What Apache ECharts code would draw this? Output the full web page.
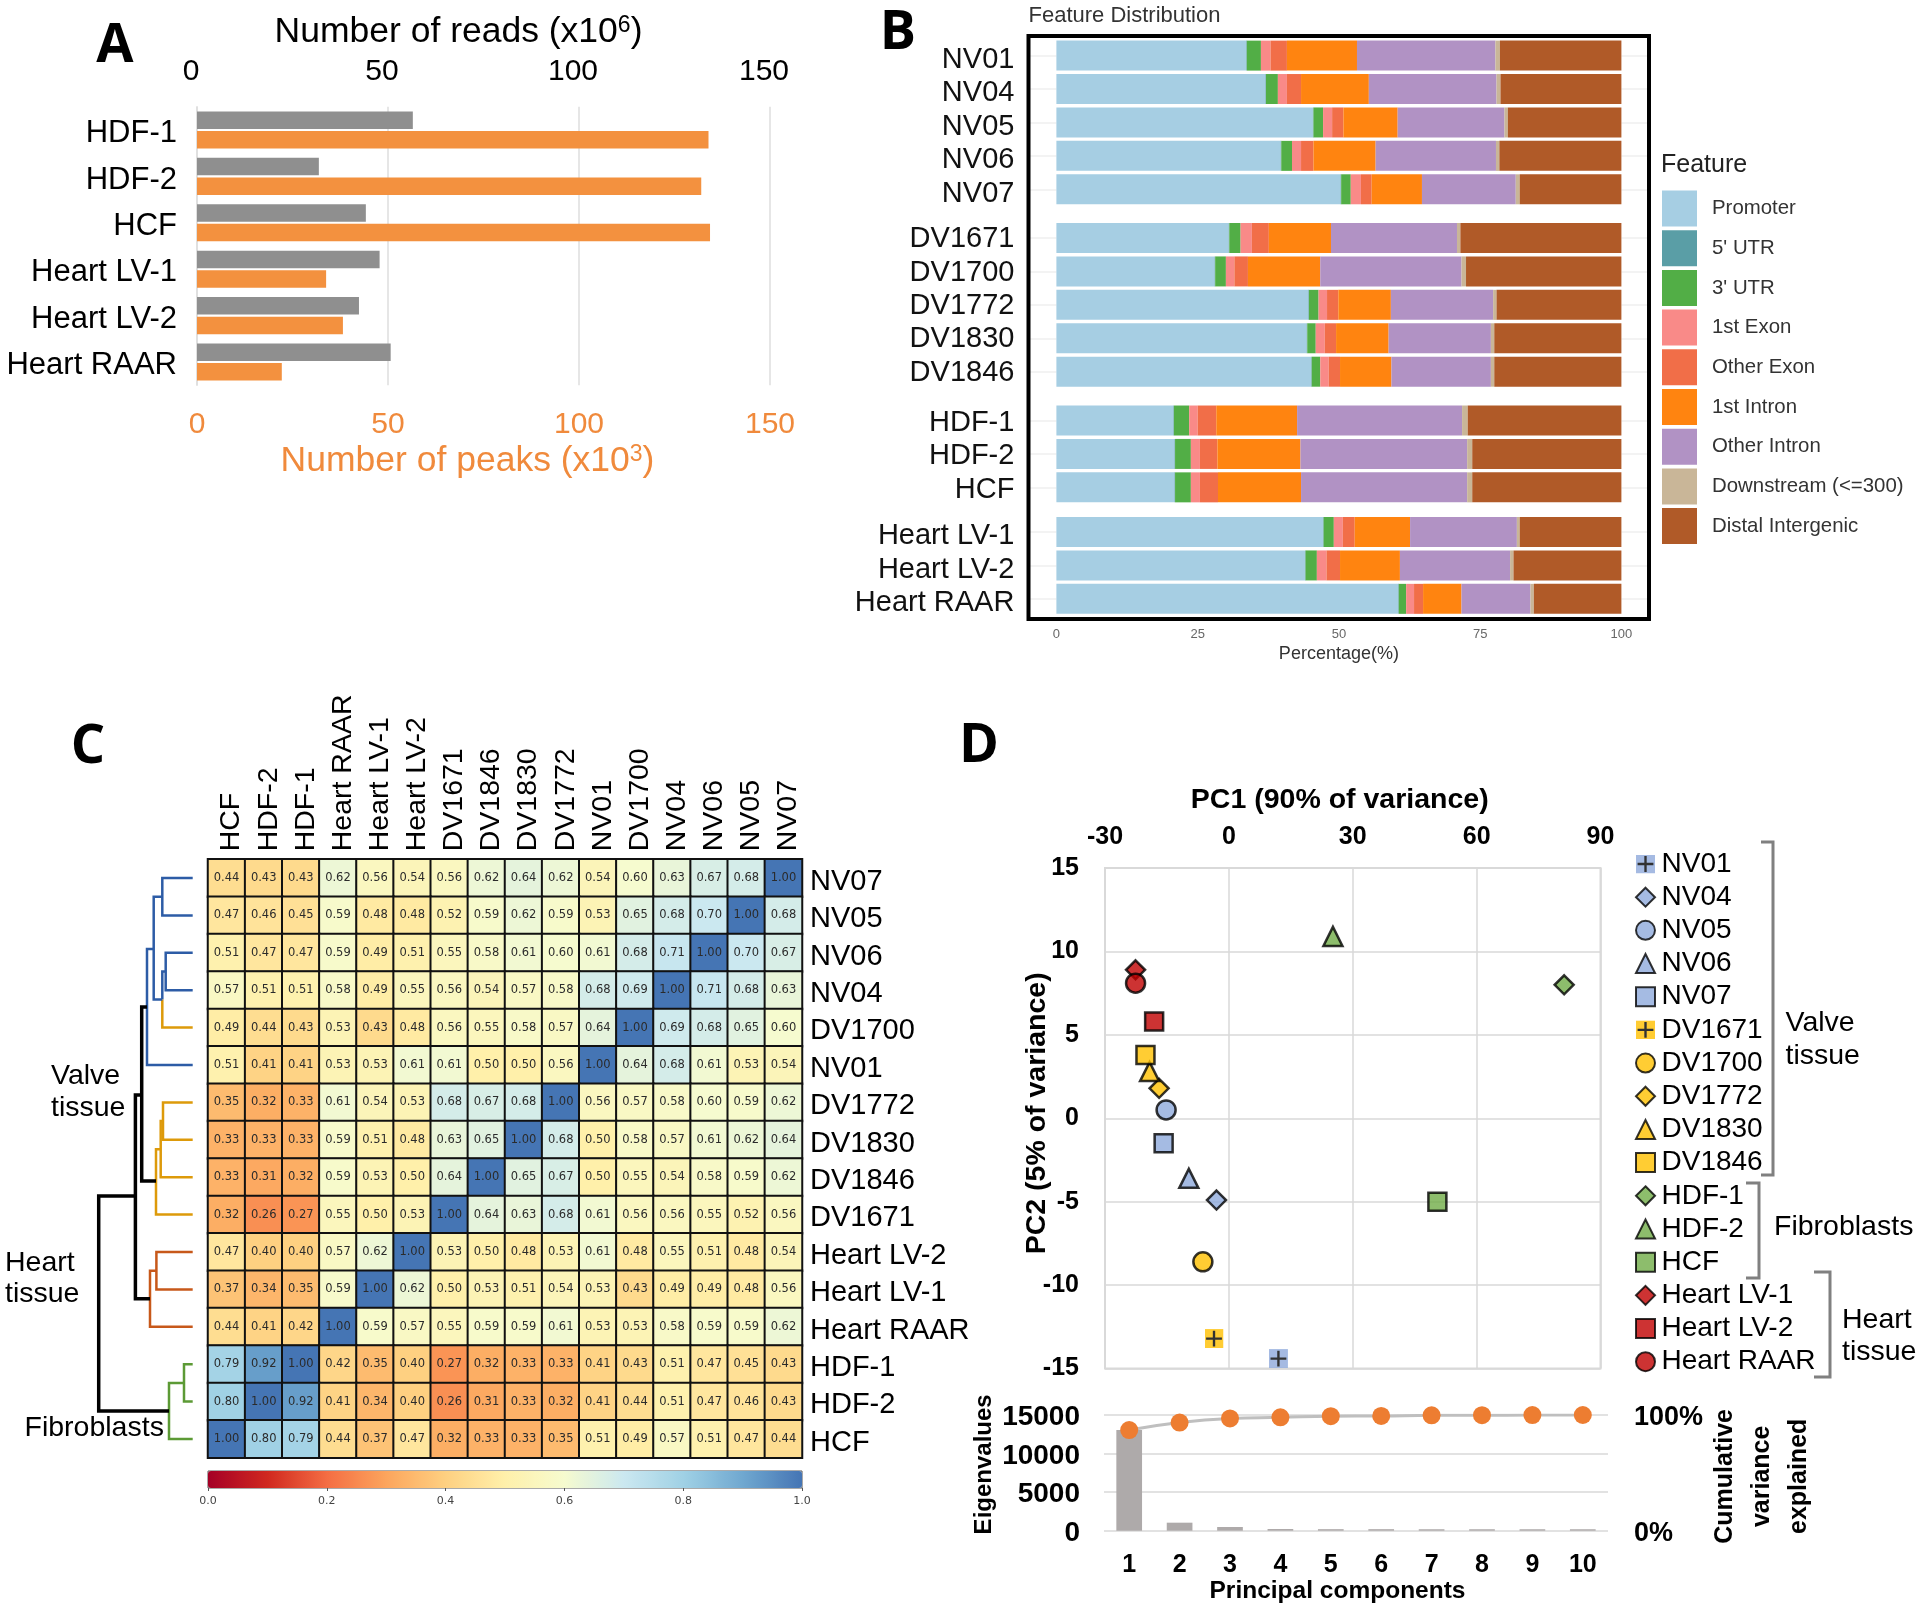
<!DOCTYPE html>
<html><head><meta charset="utf-8">
<style>html,body{margin:0;padding:0;background:#fff}#c{width:1920px;height:1606px}</style>
<script src="https://cdn.jsdelivr.net/npm/echarts@6/dist/echarts.min.js"></script>
</head><body><div id="c"></div>
<script>
// ---------- Panel A ----------
const readSamples = ['HDF-1','HDF-2','HCF','Heart LV-1','Heart LV-2','Heart RAAR'];
const readsM = [56.5,31.9,44.2,47.8,42.4,50.7];
const peaksK = [133.9,132,134.3,33.8,38.2,22.2];
// ---------- Panel B ----------
const bSamples = ['NV01','NV04','NV05','NV06','NV07','DV1671','DV1700','DV1772','DV1830','DV1846','HDF-1','HDF-2','HCF','Heart LV-1','Heart LV-2','Heart RAAR'];
const bFacetSizes = [5,5,3,3];
const featureNames = ['Promoter',"5' UTR","3' UTR",'1st Exon','Other Exon','1st Intron','Other Intron','Downstream (<=300)','Distal Intergenic'];
const promoter   = [33.6,37.0,45.4,39.7,50.3,30.5,28.0,44.6,44.3,45.1,20.7,20.9,20.9,47.2,44.0,60.5];
const utr5       = [0.1,0.1,0.1,0.1,0.1,0.1,0.1,0.1,0.1,0.1,0.1,0.1,0.1,0.1,0.1,0.1];
const utr3       = [2.5,2.1,1.7,1.9,1.7,2.0,1.9,1.7,1.5,1.5,2.7,2.8,2.8,1.8,2.0,1.3];
const exon1      = [1.7,1.6,1.6,1.6,1.8,2.0,1.5,1.5,1.6,1.5,1.5,1.6,1.6,1.6,1.7,1.4];
const otherExon  = [2.9,2.5,2.0,2.2,1.9,3.0,2.4,2.0,2.0,2.0,3.3,3.1,3.2,2.1,2.4,1.6];
const intron1    = [12.4,12.0,9.6,11.0,8.9,11.0,12.8,9.3,9.3,9.1,14.3,14.7,14.7,9.8,10.6,6.8];
const otherIntron= [24.5,22.6,18.9,21.3,16.6,22.3,25.0,18.1,18.1,17.6,29.2,29.5,29.4,18.9,19.5,12.2];
const downstream = [0.8,0.7,0.6,0.6,0.7,0.6,0.8,0.6,0.6,0.6,1.0,0.9,0.9,0.5,0.6,0.6];
const distal     = [21.5,21.4,20.1,21.6,18.0,28.5,27.5,22.1,22.5,22.5,27.2,26.4,26.4,18.0,19.1,15.5];
const featureValues = [promoter,utr5,utr3,exon1,otherExon,intron1,otherIntron,downstream,distal];
const featureColors = ['#a6cee3','#5a9ea6','#52ae46','#f98a88','#f16e48','#ff8410','#b192c4','#c9b698','#b05a28'];
// ---------- Panel C ----------
const hmCols = ['HCF','HDF-2','HDF-1','Heart RAAR','Heart LV-1','Heart LV-2','DV1671','DV1846','DV1830','DV1772','NV01','DV1700','NV04','NV06','NV05','NV07'];
const hmRows = ['NV07','NV05','NV06','NV04','DV1700','NV01','DV1772','DV1830','DV1846','DV1671','Heart LV-2','Heart LV-1','Heart RAAR','HDF-1','HDF-2','HCF'];
const hmValues = [
[.44,.43,.43,.62,.56,.54,.56,.62,.64,.62,.54,.60,.63,.67,.68,1],
[.47,.46,.45,.59,.48,.48,.52,.59,.62,.59,.53,.65,.68,.70,1,.68],
[.51,.47,.47,.59,.49,.51,.55,.58,.61,.60,.61,.68,.71,1,.70,.67],
[.57,.51,.51,.58,.49,.55,.56,.54,.57,.58,.68,.69,1,.71,.68,.63],
[.49,.44,.43,.53,.43,.48,.56,.55,.58,.57,.64,1,.69,.68,.65,.60],
[.51,.41,.41,.53,.53,.61,.61,.50,.50,.56,1,.64,.68,.61,.53,.54],
[.35,.32,.33,.61,.54,.53,.68,.67,.68,1,.56,.57,.58,.60,.59,.62],
[.33,.33,.33,.59,.51,.48,.63,.65,1,.68,.50,.58,.57,.61,.62,.64],
[.33,.31,.32,.59,.53,.50,.64,1,.65,.67,.50,.55,.54,.58,.59,.62],
[.32,.26,.27,.55,.50,.53,1,.64,.63,.68,.61,.56,.56,.55,.52,.56],
[.47,.40,.40,.57,.62,1,.53,.50,.48,.53,.61,.48,.55,.51,.48,.54],
[.37,.34,.35,.59,1,.62,.50,.53,.51,.54,.53,.43,.49,.49,.48,.56],
[.44,.41,.42,1,.59,.57,.55,.59,.59,.61,.53,.53,.58,.59,.59,.62],
[.79,.92,1,.42,.35,.40,.27,.32,.33,.33,.41,.43,.51,.47,.45,.43],
[.80,1,.92,.41,.34,.40,.26,.31,.33,.32,.41,.44,.51,.47,.46,.43],
[1,.80,.79,.44,.37,.47,.32,.33,.33,.35,.51,.49,.57,.51,.47,.44]];
const hmPalette = ['#a50026','#d0281f','#f46d43','#fca55d','#fed081','#fff0aa','#f6fbcf','#cbe8f0','#a0d1e5','#70a8d0','#4575b4'];
const dendroLinks = [
 ['#2d5ca6',[[0,.5],[30.4,.5],[30.4,1.5],[0,1.5]]],
 ['#2d5ca6',[[0,2.5],[27,2.5],[27,3.5],[0,3.5]]],
 ['#2d5ca6',[[27,3],[30.4,3],[30.4,3.75]]],
 ['#dd9a0a',[[30.4,3.75],[30.4,4.5],[0,4.5]]],
 ['#2d5ca6',[[30.4,1],[39,1],[39,3.75],[30.4,3.75]]],
 ['#2d5ca6',[[39,2.4],[45.7,2.4],[45.7,5.5],[0,5.5]]],
 ['#dd9a0a',[[0,6.5],[29.7,6.5],[29.7,7.5],[0,7.5]]],
 ['#dd9a0a',[[29.7,7],[32,7],[32,8.5],[0,8.5]]],
 ['#dd9a0a',[[32,7.75],[36.7,7.75],[36.7,9.5],[0,9.5]]],
 ['#000',[[45.7,3.95],[51,3.95],[51,8.6],[36.7,8.6]]],
 ['#c7581a',[[0,10.5],[36.3,10.5],[36.3,11.5],[0,11.5]]],
 ['#c7581a',[[36.3,11],[42.7,11],[42.7,12.5],[0,12.5]]],
 ['#000',[[51,6.3],[57.3,6.3],[57.3,11.75],[42.7,11.75]]],
 ['#5c9a35',[[0,13.5],[8.7,13.5],[8.7,14.5],[0,14.5]]],
 ['#5c9a35',[[8.7,14],[23.7,14],[23.7,15.5],[0,15.5]]],
 ['#000',[[57.3,9],[94,9],[94,14.75],[23.7,14.75]]]
];
// ---------- Panel D ----------
const pcaSamples = ['NV01','NV04','NV05','NV06','NV07','DV1671','DV1700','DV1772','DV1830','DV1846','HDF-1','HDF-2','HCF','Heart LV-1','Heart LV-2','Heart RAAR'];
const pc1 = [12.0,-3.0,-15.2,-9.7,-15.8,-3.6,-6.3,-16.9,-19.2,-20.2,81.2,25.2,50.5,-22.6,-18.1,-22.6];
const pc2 = [-14.4,-4.9,0.5,-3.6,-1.5,-13.2,-8.6,1.8,2.8,3.8,8.0,10.9,-5.0,8.9,5.8,8.1];
const pcaColors = ['#8faadc','#8faadc','#8faadc','#8faadc','#8faadc','#ffc000','#ffc000','#ffc000','#ffc000','#ffc000','#70ad47','#70ad47','#70ad47','#c00000','#c00000','#c00000'];
const pcaShapes = ['plus','diamond','circle','triangle','rect','plus','circle','diamond','triangle','rect','diamond','triangle','rect','diamond','rect','circle'];
const pcNumbers = ['1','2','3','4','5','6','7','8','9','10'];
const eigenvalues = [13060,1040,480,220,200,200,190,190,190,190];
const cumulativePct = [87,93.5,97,98,99,99.2,99.7,99.8,99.9,100];

const SANS = '"Liberation Sans", Arial, sans-serif';
const grid=[], xAxis=[], yAxis=[], series=[];
function addGrid(g,x,y){g.outerBoundsMode='none';grid.push(g);const i=grid.length-1;
  const xs=[].concat(x).map(a=>Object.assign({gridIndex:i},a));
  const ys=[].concat(y).map(a=>Object.assign({gridIndex:i},a));
  const xi=xAxis.length, yi=yAxis.length; xAxis.push(...xs); yAxis.push(...ys); return {xi,yi};}
// axis label as rich text, shifted down by half of padTop
function richLabel(style,padTop,fmt){
  return {formatter:v=>'{a|'+(fmt?fmt(v):v)+'}',rich:{a:Object.assign({padding:[padTop,0,0,0]},style)}};
}

// --- A ---
const AOR='#f3913f', AORT='#f08a3c';
const supRich=(col)=>({a:{color:col,fontFamily:SANS,fontSize:35.5},s:{color:col,fontFamily:SANS,fontSize:23,verticalAlign:'top'}});
const a=addGrid({left:197,top:106.8,width:573,height:278.4},
 [{type:'value',position:'bottom',min:0,max:150,interval:50,axisLine:{show:false},axisTick:{show:false},
   splitLine:{show:true,lineStyle:{color:'#dedede',width:1.5}},
   axisLabel:{color:AORT,fontFamily:SANS,fontSize:30,margin:25},
   name:'{a|Number of peaks (x10}{s|3}{a|)}',nameLocation:'middle',nameGap:58,nameTextStyle:{padding:[0,32,0,0],rich:supRich(AORT)}},
  {type:'value',position:'top',min:0,max:150,interval:50,axisLine:{show:false},axisTick:{show:false},splitLine:{show:false},
   axisLabel:{color:'#000',fontFamily:SANS,fontSize:30,margin:20,padding:[0,12,0,0]},
   name:'{a|Number of reads (x10}{s|6}{a|)}',nameLocation:'middle',nameGap:57,nameTextStyle:{padding:[0,50,0,0],rich:supRich('#000')}}],
 {type:'category',data:readSamples,inverse:true,axisLine:{lineStyle:{color:'#dedede',width:1.5}},axisTick:{show:false},
  axisLabel:Object.assign({margin:20,interval:0},richLabel({color:'#000',fontFamily:SANS,fontSize:31},7.4))});
series.push({type:'bar',name:'Reads',xAxisIndex:a.xi+1,yAxisIndex:a.yi,data:readsM,barWidth:17.5,barGap:'12%',itemStyle:{color:'#8f8f8f'}});
series.push({type:'bar',name:'Peaks',xAxisIndex:a.xi,yAxisIndex:a.yi,data:peaksK,barWidth:17.5,barGap:'12%',itemStyle:{color:AOR}});

// --- B ---
const bTops=[38.9,221.3,403.8,515.3], bLabelPad=[8.6,2.4,4.8,8.6]; let off=0;
bFacetSizes.forEach((n,k)=>{
  const cats=bSamples.slice(off,off+n), last=k===bFacetSizes.length-1;
  const ax=addGrid({left:1056.4,width:565,top:bTops[k],height:n*33.42},
   {type:'value',min:0,max:100,interval:25,splitLine:{show:false},axisLine:{show:false},axisTick:{show:false},
    axisLabel:{show:last,color:'#666',fontFamily:SANS,fontSize:13,margin:12},
    ...(last?{name:'Percentage(%)',nameLocation:'middle',nameGap:29,nameTextStyle:{color:'#333',fontFamily:SANS,fontSize:18}}:{})},
   [{type:'category',inverse:true,data:cats,axisLine:{show:false},axisTick:{show:true,alignWithLabel:true,length:28,lineStyle:{color:'#efefef',width:1.5}},
    axisLabel:Object.assign({margin:42,interval:0},richLabel({color:'#111',fontFamily:SANS,fontSize:29},bLabelPad[k]))},
    {type:'category',inverse:true,position:'right',data:cats,axisLine:{show:false},axisTick:{show:true,alignWithLabel:true,length:28,lineStyle:{color:'#efefef',width:1.5}},axisLabel:{show:false}}]);
  featureNames.forEach((f,j)=>series.push({type:'bar',name:f,stack:'facet'+k,xAxisIndex:ax.xi,yAxisIndex:ax.yi,barWidth:30,
    data:featureValues[j].slice(off,off+n),itemStyle:{color:featureColors[j]}}));
  off+=n;
});

// --- C ---
const h=addGrid({left:208,top:859.3,width:594,height:598.4},
 {type:'category',position:'top',data:hmCols,axisLine:{show:false},axisTick:{show:false},splitLine:{show:false},
  axisLabel:Object.assign({rotate:-90,margin:8,interval:0},richLabel({color:'#000',fontFamily:SANS,fontSize:28.5},10))},
 {type:'category',position:'right',inverse:true,data:hmRows,axisLine:{show:false},axisTick:{show:false},splitLine:{show:false},
  axisLabel:Object.assign({margin:8,interval:0},richLabel({color:'#000',fontFamily:SANS,fontSize:29},7.4))});
const hmData=[]; hmValues.forEach((r,i)=>r.forEach((v,j)=>hmData.push([j,i,v])));
series.push({type:'heatmap',name:'Correlation',xAxisIndex:h.xi,yAxisIndex:h.yi,data:hmData,
  itemStyle:{borderColor:'#111',borderWidth:2},
  label:{show:true,fontFamily:'"DejaVu Sans",sans-serif',fontSize:11.5,color:'#2b2b2b',formatter:p=>p.value[2].toFixed(2)}});
const hmSeriesIndex=series.length-1;
const cb=addGrid({left:208,top:1471,width:594,height:17,show:true,borderColor:'#555',borderWidth:1,backgroundColor:'transparent'},
 {type:'value',min:0,max:1,interval:0.2,splitLine:{show:false},axisLine:{show:false},axisTick:{show:true,length:3,lineStyle:{color:'#555'}},
  axisLabel:{color:'#444',fontFamily:'"DejaVu Sans",sans-serif',fontSize:11,margin:8,formatter:v=>v.toFixed(1),showMinLabel:true,showMaxLabel:true}},
 {type:'value',show:false,min:0,max:1});
const dg=addGrid({left:92.7,width:100,top:859.3,height:598.4},
 {type:'value',show:false,inverse:true,min:0,max:100},
 {type:'value',show:false,inverse:true,min:0,max:16});
dendroLinks.forEach(([col,pts])=>series.push({type:'line',name:'dendrogram',xAxisIndex:dg.xi,yAxisIndex:dg.yi,data:pts,showSymbol:false,symbol:'none',
  lineStyle:{color:col,width:col==='#000'?3.5:2.5,join:'miter',cap:'butt'},silent:true}));

// --- D ---
const GR='#d9d9d9';
const sc=addGrid({left:1105,top:868,width:495.5,height:500.6,show:true,borderColor:GR,borderWidth:2,backgroundColor:'transparent'},
 {type:'value',position:'top',min:-30,max:90,interval:30,axisLine:{show:false},axisTick:{show:false},splitLine:{show:true,lineStyle:{color:GR,width:1.5}},
  axisLabel:{color:'#000',fontFamily:SANS,fontWeight:'bold',fontSize:25,margin:18},
  name:'PC1 (90% of variance)',nameLocation:'middle',nameGap:53,nameTextStyle:{color:'#000',fontFamily:SANS,fontWeight:'bold',fontSize:28.5,padding:[0,26,0,0]}},
 {type:'value',min:-15,max:15,interval:5,axisLine:{show:false},axisTick:{show:false},splitLine:{show:true,lineStyle:{color:GR,width:1.5}},
  axisLabel:{color:'#000',fontFamily:SANS,fontWeight:'bold',fontSize:25,margin:26},
  name:'PC2 (5% of variance)',nameLocation:'middle',nameRotate:90,nameGap:53,nameMoveOverlap:false,nameTextStyle:{color:'#000',fontFamily:SANS,fontWeight:'bold',fontSize:28.5,padding:[0,0,0,10]}});
function plusIcon(fill){const svg='<svg xmlns="http://www.w3.org/2000/svg" width="36" height="36"><rect width="36" height="36" fill="'+fill+'"/><path d="M18 3V33M3 18H33" stroke="#000" stroke-width="4.5"/></svg>';
  return 'image://data:image/svg+xml;charset=utf-8,'+encodeURIComponent(svg);}
pcaSamples.forEach((n,i)=>{
  const shape=pcaShapes[i], isPlus=shape==='plus';
  series.push({type:'scatter',name:n,xAxisIndex:sc.xi,yAxisIndex:sc.yi,data:[[pc1[i],pc2[i]]],
    symbol:isPlus?plusIcon(pcaColors[i]):shape,symbolSize:shape==='rect'?18:19,
    itemStyle:{color:pcaColors[i],borderColor:'#000',borderWidth:isPlus?0:2.5}});
});
const sc2=addGrid({left:1104,top:1415,width:504,height:115.7},
 {type:'category',data:pcNumbers,axisLine:{show:false},axisTick:{show:false},
  axisLabel:{color:'#000',fontFamily:SANS,fontWeight:'bold',fontSize:25,margin:22,interval:0},
  name:'Principal components',nameLocation:'middle',nameGap:45,nameTextStyle:{color:'#000',fontFamily:SANS,fontWeight:'bold',fontSize:24.5,padding:[0,37,0,0]}},
 [{type:'value',min:0,max:15000,interval:5000,axisLine:{show:false},axisTick:{show:false},splitLine:{show:true,lineStyle:{color:GR,width:1.5}},
   axisLabel:Object.assign({margin:24},richLabel({color:'#000',fontFamily:SANS,fontWeight:'bold',fontSize:28},5)),
   name:'Eigenvalues',nameLocation:'middle',nameRotate:90,nameGap:108,nameTextStyle:{color:'#000',fontFamily:SANS,fontWeight:'bold',fontSize:24,padding:[0,0,0,17]}},
  {type:'value',min:0,max:100,interval:100,position:'right',axisLine:{show:false},axisTick:{show:false},splitLine:{show:false},
   axisLabel:Object.assign({margin:26},richLabel({color:'#000',fontFamily:SANS,fontWeight:'bold',fontSize:27},5,v=>v+'%')),
   name:'Cumulative\nvariance\nexplained',nameLocation:'middle',nameRotate:90,nameGap:96.5,nameTextStyle:{color:'#000',fontFamily:SANS,fontWeight:'bold',fontSize:25,lineHeight:37,padding:[0,7,0,0]}}]);
series.push({type:'bar',name:'Eigenvalues',xAxisIndex:sc2.xi,yAxisIndex:sc2.yi,data:eigenvalues,barWidth:25.7,itemStyle:{color:'#aeaaaa'}});
series.push({type:'line',name:'Cumulative variance',xAxisIndex:sc2.xi,yAxisIndex:sc2.yi+1,data:cumulativePct,smooth:true,symbol:'circle',symbolSize:18,
  lineStyle:{color:'#bfbfbf',width:3},itemStyle:{color:'#ed7d31'}});

// --- annotation text ---
const T=(text,x,y,size,o={})=>({type:'text',x,y,z:20,silent:true,style:Object.assign({text,fontFamily:SANS,fontSize:size,fill:'#000',textAlign:'left',textVerticalAlign:'middle'},o)});
const Letter=(t,x,y)=>T(t,x,y,54,{fontFamily:'"Open Sans",sans-serif',fontWeight:'bold',textAlign:'center'});
const Br=(pts)=>({type:'polyline',z:20,silent:true,shape:{points:pts},style:{stroke:'#808080',lineWidth:3,fill:'none'}});
const graphic=[
 Letter('A',115,47),Letter('B',898,34),Letter('C',88,748),Letter('D',979,747),
 {type:'rect',z:20,silent:true,shape:{x:1028.5,y:36,width:620.5,height:583},style:{fill:'none',stroke:'#000',lineWidth:4}},
 T('Feature Distribution',1028.5,16,22,{fill:'#333'}),
 T('Feature',1661,165,25,{fill:'#222'}),
 T('Valve',51,1076,28.5),T('tissue',51,1108,28.5),
 T('Heart',5,1263,28.5),T('tissue',5,1294,28.5),
 T('Fibroblasts',24.5,1428,28.5),
 Br([[1761,842],[1773,842],[1773,1175],[1761,1175]]),
 Br([[1746,1183],[1759,1183],[1759,1278],[1746,1278]]),
 Br([[1814,1272],[1830,1272],[1830,1377],[1814,1377]]),
 T('Valve',1785.5,1023,28.5),T('tissue',1785.5,1056,28.5),
 T('Fibroblasts',1774,1227,28.5),
 T('Heart',1842,1320,28.5),T('tissue',1842,1352,28.5)
];

const option={
 animation:false,backgroundColor:'#fff',grid,xAxis,yAxis,series,graphic,
 visualMap:{type:'continuous',min:0,max:1,calculable:false,orient:'horizontal',left:208,top:1471,itemWidth:17,itemHeight:594,padding:0,text:null,showLabel:false,
   seriesIndex:hmSeriesIndex,inRange:{color:hmPalette}},
 legend:[
  {data:featureNames,orient:'vertical',left:1662,top:190.5,padding:0,itemWidth:35,itemHeight:36,itemGap:3.7,icon:'rect',selectedMode:false,
   textStyle:{fontFamily:SANS,fontSize:20.4,color:'#333',padding:[0,0,0,10]}},
  {data:pcaSamples,orient:'vertical',left:1635,top:850,padding:0,itemWidth:19,itemHeight:19,itemGap:5.18,selectedMode:false,
   textStyle:{fontFamily:SANS,fontSize:28,color:'#000',lineHeight:25,padding:[0,0,0,1.5]}}
 ]
};
const chart=echarts.init(document.getElementById('c'),null,{renderer:'canvas',width:1920,height:1606});
chart.setOption(option);
</script></body></html>
